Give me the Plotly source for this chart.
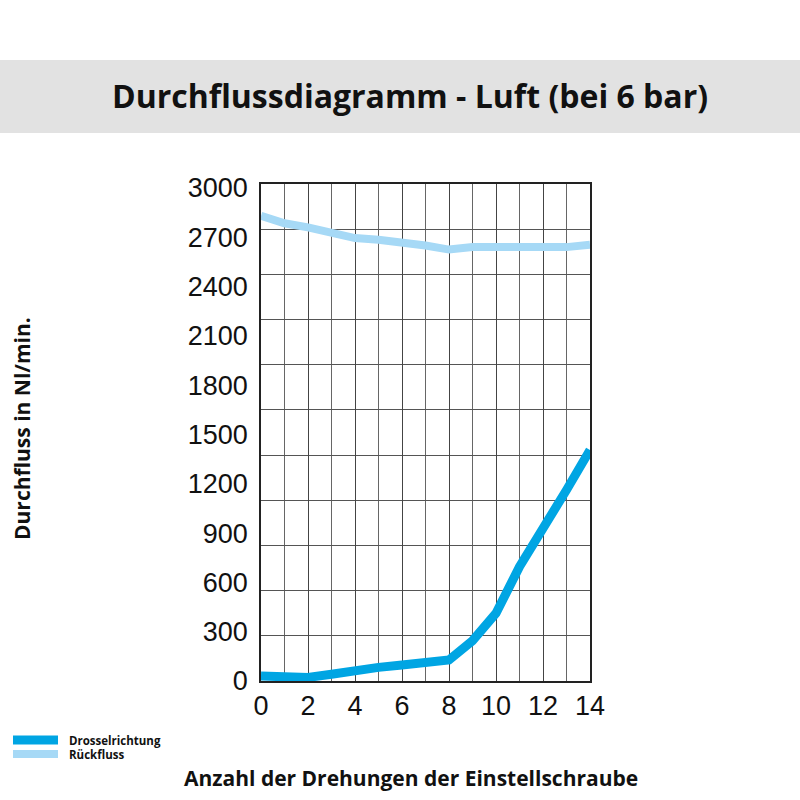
import plotly.graph_objects as go

# Anzahl der Drehungen (x) und Durchfluss in Nl/min (y)
drehungen = list(range(0, 15))
drosselrichtung = [30, 22, 22, 41, 67, 83, 97, 111, 128, 245, 412, 696, 919, 1162, 1406]
rueckfluss = [2830, 2785, 2760, 2725, 2695, 2685, 2670, 2650, 2625, 2640, 2640, 2640, 2640, 2640, 2655]

y_ticks = list(range(0, 3001, 300))
x_ticks = list(range(0, 15, 2))

farbe_drossel = '#00a5e3'
farbe_rueck = '#a6d9f6'

fig = go.Figure()

fig.add_trace(go.Scatter(
    x=drehungen, y=drosselrichtung,
    mode='lines', name='\u00a0\u00a0<b>Drosselrichtung</b>',
    line=dict(color=farbe_drossel, width=9),
    legend='legend'
))

fig.add_trace(go.Scatter(
    x=drehungen, y=rueckfluss,
    mode='lines', name='\u00a0\u00a0<b>Rückfluss</b>',
    line=dict(color=farbe_rueck, width=8),
    legend='legend2'
))

y_max = 3024

# Umrechnung Pixel -> Paper-Koordinaten (Plotbereich 261..590 / 184..681)
def px_x(p):
    return (p - 261) / 329

def px_y(p):
    return (681 - p) / 497

legende_font = dict(family='Open Sans', size=11.5, color='#111')

fig.update_layout(
    width=800, height=800,
    margin=dict(l=261, r=210, t=184, b=119),
    paper_bgcolor='white',
    plot_bgcolor='white',
    title=dict(
        text='<b>Durchflussdiagramm - Luft (bei 6 bar)</b>',
        x=410 / 800, y=1 - 97 / 800,
        xref='container', yref='container',
        xanchor='center', yanchor='middle',
        font=dict(family='Open Sans', size=32, color='#111')
    ),
    xaxis=dict(
        range=[0, 14],
        tickvals=x_ticks,
        showgrid=True, gridcolor='#444', gridwidth=1,
        minor=dict(dtick=1, tick0=0, showgrid=True, gridcolor='#666', gridwidth=1),
        showline=True, linecolor='#222', linewidth=1.5, mirror=True,
        ticks='', zeroline=False,
        tickfont=dict(family='Liberation Sans', size=27, color='#111'),
    ),
    yaxis=dict(
        range=[0, y_max],
        tickvals=y_ticks,
        showgrid=False,
        minor=dict(tick0=0, dtick=y_max / 11, showgrid=True, gridcolor='#555', gridwidth=1),
        showline=True, linecolor='#222', linewidth=1.5, mirror=True,
        ticks='', zeroline=False,
        ticklabelstandoff=6,
        tickfont=dict(family='Liberation Sans', size=27, color='#111'),
    ),
    showlegend=True,
    legend=dict(
        xref='container', yref='container',
        x=8 / 800, y=1 - 740 / 800,
        xanchor='left', yanchor='middle',
        font=legende_font, bgcolor='rgba(0,0,0,0)', itemwidth=45
    ),
    legend2=dict(
        xref='container', yref='container',
        x=8 / 800, y=1 - 754 / 800,
        xanchor='left', yanchor='middle',
        font=legende_font, bgcolor='rgba(0,0,0,0)', itemwidth=45
    ),
    shapes=[dict(
        type='rect', xref='paper', yref='paper',
        x0=-0.8, x1=1.65,
        y0=px_y(133), y1=px_y(60),
        fillcolor='#e2e2e2', line=dict(width=0), layer='below'
    )],
    annotations=[
        dict(
            text='<b>Durchfluss in Nl/min.</b>',
            xref='paper', yref='paper',
            x=px_x(22), y=px_y(429),
            textangle=-90, showarrow=False,
            xanchor='center', yanchor='middle',
            font=dict(family='Open Sans', size=21, color='#111')
        ),
        dict(
            text='<b>Anzahl der Drehungen der Einstellschraube</b>',
            xref='paper', yref='paper',
            x=px_x(411), y=px_y(778),
            showarrow=False,
            xanchor='center', yanchor='middle',
            font=dict(family='Open Sans', size=21, color='#111')
        ),
    ]
)

fig.write_html("out.html", config={'displayModeBar': False},
               post_script="document.body.style.margin = '0';")
